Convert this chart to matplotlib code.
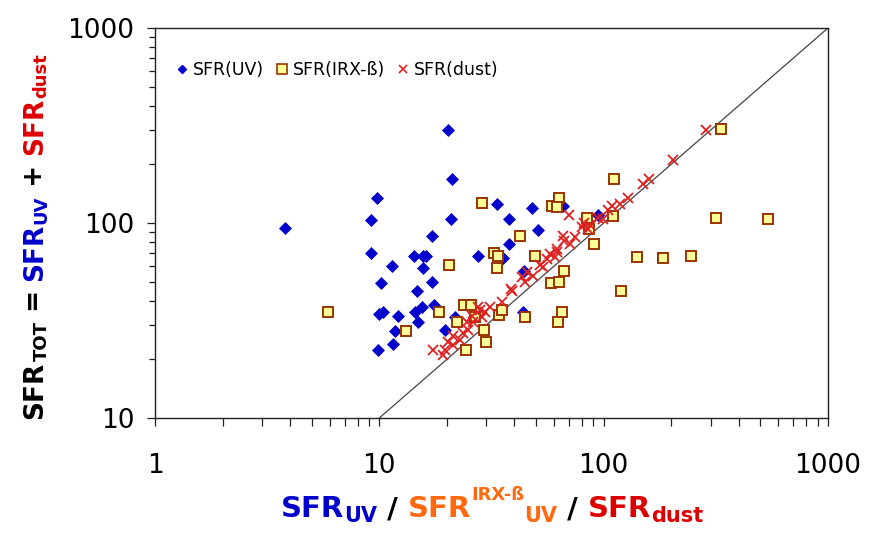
import matplotlib
matplotlib.use("Agg")
import matplotlib.pyplot as plt
from matplotlib.ticker import FixedLocator, FixedFormatter, NullFormatter, LogLocator
from matplotlib.lines import Line2D

# ---------------- data ----------------
uv_x = [3.8, 20.2, 21.0, 9.8, 9.2, 20.8, 17.2, 33.4, 38.0, 48.0,
        51.0, 37.8, 9.2, 11.4, 14.3, 15.6, 16.1, 15.6, 27.5, 35.5,
        44.0, 66.0, 94.0, 17.2, 10.2, 14.7, 10.0, 10.4, 12.1, 14.4,
        15.5, 14.9, 17.5, 11.7, 11.5, 9.9, 19.6, 21.7, 43.6]
uv_y = [94, 300, 168, 135, 104, 105, 86, 125, 105, 120,
        92, 78, 70, 60, 68, 68, 68, 59, 68, 66,
        57, 122, 110, 50, 49, 45, 34, 35, 33.5, 35,
        37, 31, 38, 28, 24, 22.4, 28.4, 33, 35]

irx_x = [5.9, 13.1, 18.4, 20.4, 22.2, 23.8, 25.6, 26.7, 28.6, 29.2,
         24.3, 29.8, 32.4, 33.7, 33.4, 34.1, 35.1, 42.3, 44.5, 49.3,
         58.6, 63.0, 61.7, 58.0, 63.0, 66.3, 65.0, 62.4, 84.0, 85.7,
         91.0, 109.5, 110.7, 119.0, 141.5, 183.0, 244.0, 318.0, 335.0, 541.0]
irx_y = [35, 28, 35, 61, 31, 38, 38, 33, 127, 28.4,
         22.4, 24.4, 70, 67.6, 59, 33.6, 35.6, 86, 32.8, 67.6,
         122, 135, 121, 49, 49.7, 57, 35, 31, 106, 93,
         78, 108.6, 169, 45, 67, 66, 68, 106, 305, 105]

dust_x = [17.3, 19.2, 19.6, 20.2, 21.3, 21.3, 22.9, 23.6, 24.8, 26.1,
          27.5, 28.6, 29.5, 31.1, 35.1, 38.9, 44.5, 48.3, 51.9, 55.7,
          57.4, 60.5, 61.7, 65.6, 66.3, 70.5, 74.2, 69.8, 79.7, 84.8,
          86.6, 98.9, 105.0, 108.5, 118.0, 128.0, 150.0, 160.0, 203.0, 287.0,
          43.1, 45.4, 38.5, 24.5, 25.8, 28.1, 53.5, 81.4, 94.0, 61.7]
dust_y = [22.4, 21.1, 22.4, 24.4, 23.8, 26.2, 25.2, 27.4, 28.4, 31.2,
          37, 32.8, 34.8, 37.3, 39.2, 44.6, 49.7, 53.3, 60.8, 65.2,
          69.2, 66.8, 73.4, 85.7, 80.7, 78, 84.7, 110, 95.3, 93,
          97.7, 105, 117, 122, 125, 135, 159, 169, 211, 301,
          52.7, 55.9, 46, 30.9, 33.2, 36, 59.3, 100, 106, 70.9]

line_x = [10, 1000]
line_y = [10, 1000]

x_ticks = [1, 10, 100, 1000]
x_ticklabels = ["1", "10", "100", "1000"]
y_ticks = [10, 100, 1000]
y_ticklabels = ["10", "100", "1000"]

legend_labels = ["SFR(UV)", "SFR(IRX-ß)", "SFR(dust)"]

BLUE = "#0000CC"
ORANGE = "#FF6A10"
RED = "#DD0000"
SQ_FACE = "#FFFF99"
SQ_EDGE = "#993300"
X_COL = "#DD2020"

plt.rcParams['font.family'] = ['DejaVu Sans']

W, H, DPI = 872, 535, 100
fig = plt.figure(figsize=(W / DPI, H / DPI), dpi=DPI)
fig.patch.set_facecolor("white")
ax = fig.add_axes([155 / W, 1 - 418 / H, (828 - 155) / W, (418 - 28) / H])

ax.set_xscale("log")
ax.set_yscale("log")
ax.set_xlim(1, 1000)
ax.set_ylim(10, 1000)

ax.plot(line_x, line_y, color="#444444", lw=0.9, zorder=1)
ax.plot(uv_x, uv_y, ls="none", marker="D", ms=5.8, mfc=BLUE, mec=BLUE,
        mew=0.5, zorder=2, label=legend_labels[0])
ax.plot(irx_x, irx_y, ls="none", marker="s", ms=7.2, mfc=SQ_FACE, mec=SQ_EDGE,
        mew=1.4, zorder=3, label=legend_labels[1])
ax.plot(dust_x, dust_y, ls="none", marker="x", ms=7.3, mec=X_COL, mew=1.3,
        zorder=4, label=legend_labels[2])

for sp in ax.spines.values():
    sp.set_color("#222222")
    sp.set_linewidth(1.0)

ax.xaxis.set_major_locator(FixedLocator(x_ticks))
ax.xaxis.set_major_formatter(FixedFormatter(x_ticklabels))
ax.yaxis.set_major_locator(FixedLocator(y_ticks))
ax.yaxis.set_major_formatter(FixedFormatter(y_ticklabels))
ax.xaxis.set_minor_locator(LogLocator(base=10, subs=range(2, 10)))
ax.yaxis.set_minor_locator(LogLocator(base=10, subs=range(2, 10)))
ax.xaxis.set_minor_formatter(NullFormatter())
ax.yaxis.set_minor_formatter(NullFormatter())

ax.tick_params(axis="x", which="both", direction="out", length=5.5, width=0.9,
               color="#222222", labelsize=19, pad=20)
ax.tick_params(axis="y", which="major", direction="out", length=6, width=0.9,
               color="#222222", labelsize=19, pad=9)
ax.tick_params(axis="y", which="minor", direction="out", length=4.5, width=0.9,
               color="#222222")

leg_handles = [
    Line2D([], [], ls="none", marker="D", ms=4.5, mfc=BLUE, mec=BLUE),
    Line2D([], [], ls="none", marker="s", ms=6.5, mfc=SQ_FACE, mec=SQ_EDGE, mew=1.2),
    Line2D([], [], ls="none", marker="x", ms=6, mec=X_COL, mew=1.2),
]
ax.legend(leg_handles, legend_labels, loc="center left",
          bbox_to_anchor=(0.022, 0.893), ncol=3, frameon=False,
          fontsize=12.5, handlelength=0.6, handletextpad=0.35,
          columnspacing=0.7, borderaxespad=0)

# ---------------- multi-colour axis labels ----------------
fig.canvas.draw()
renderer = fig.canvas.get_renderer()


def piece_widths(pieces):
    out = []
    for s, c, size, dy in pieces:
        t = fig.text(0, 0, s, fontsize=size, fontweight="bold")
        out.append(t.get_window_extent(renderer).width)
        t.remove()
    return out


def colored_label(pieces, cx, cy, rotated):
    ws = piece_widths(pieces)
    total = sum(ws)
    pos = -total / 2.0
    for (s, c, size, dy), w in zip(pieces, ws):
        dpx = dy * DPI / 72.0
        if rotated:
            px = cx - dpx
            py = cy + pos
            fig.text(px / W, py / H, s, color=c, fontsize=size, fontweight="bold",
                     rotation=90, rotation_mode="anchor", ha="left", va="baseline")
        else:
            px = cx + pos
            py = cy + dpx
            fig.text(px / W, py / H, s, color=c, fontsize=size, fontweight="bold",
                     ha="left", va="baseline")
        pos += w


xlab = [("SFR", BLUE, 21, 0), ("UV", BLUE, 15, -3.5),
        (" / ", "black", 21, 0),
        ("SFR", ORANGE, 21, 0), ("IRX-ß", ORANGE, 13, 12.5), ("UV", ORANGE, 15, -3.5),
        (" / ", "black", 21, 0),
        ("SFR", RED, 21, 0), ("dust", RED, 15, -3.5)]
ylab = [("SFR", "black", 19, 0), ("TOT", "black", 13, -3.2),
        (" = ", "black", 19, 0),
        ("SFR", BLUE, 19, 0), ("UV", BLUE, 13, -3.2),
        (" + ", "black", 19, 0),
        ("SFR", RED, 19, 0), ("dust", RED, 13, -3.2)]

colored_label(xlab, 492, H - 517, rotated=False)
colored_label(ylab, 42, H - 236, rotated=True)

fig.savefig("out.png", dpi=DPI, facecolor="white")
